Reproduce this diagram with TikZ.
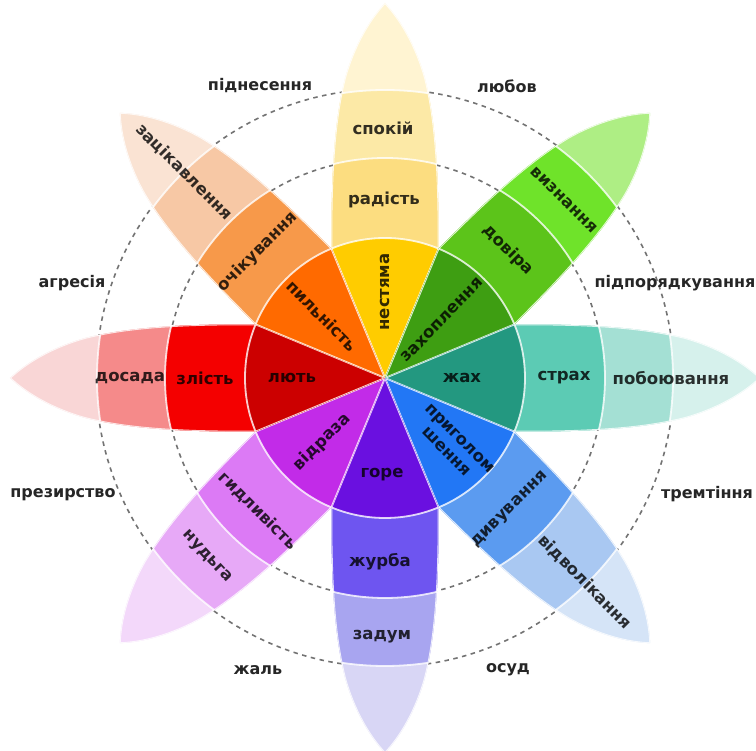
\documentclass[tikz,border=0pt]{standalone}
\usepackage{fontspec}
\setmainfont{DejaVu Sans}
\definecolor{Y1}{HTML}{FFCC00}\definecolor{Y2}{HTML}{FCDD80}\definecolor{Y3}{HTML}{FCE9A6}\definecolor{Y4}{HTML}{FFF4D2}
\definecolor{G1}{HTML}{3E9E12}\definecolor{G2}{HTML}{5CC41A}\definecolor{G3}{HTML}{6FE32A}\definecolor{G4}{HTML}{AEEE84}
\definecolor{T1}{HTML}{239880}\definecolor{T2}{HTML}{5CCBB4}\definecolor{T3}{HTML}{A4E0D4}\definecolor{T4}{HTML}{D6F1EC}
\definecolor{B1}{HTML}{2277F5}\definecolor{B2}{HTML}{5B9BF0}\definecolor{B3}{HTML}{A9C8F2}\definecolor{B4}{HTML}{D5E4F7}
\definecolor{V1}{HTML}{6A10E0}\definecolor{V2}{HTML}{6E55F0}\definecolor{V3}{HTML}{A8A5F0}\definecolor{V4}{HTML}{D8D6F5}
\definecolor{P1}{HTML}{C22BE8}\definecolor{P2}{HTML}{DC7AF5}\definecolor{P3}{HTML}{E7A9F7}\definecolor{P4}{HTML}{F3D8FA}
\definecolor{R1}{HTML}{CC0000}\definecolor{R2}{HTML}{F40000}\definecolor{R3}{HTML}{F58A8A}\definecolor{R4}{HTML}{F9D6D6}
\definecolor{O1}{HTML}{FF6A00}\definecolor{O2}{HTML}{F7994A}\definecolor{O3}{HTML}{F7C8A5}\definecolor{O4}{HTML}{FAE3D3}
\newcommand\drawpetal[5]{%
  \begin{scope}[rotate=#1]
    \clip (0,0) -- (-22.5:140) .. controls (210,-54) and (260,-50) .. (300,-40)
      .. controls (332,-31) and (358,-16) .. (375,0)
      .. controls (358,16) and (332,31) .. (300,40)
      .. controls (260,50) and (210,54) .. (22.5:140) -- cycle;
    \fill[#5] (-10,-80) rectangle (400,80);
    \fill[#4] (0,0) circle (288);
    \fill[#3] (0,0) circle (220);
    \fill[#2] (0,0) circle (140);
    \draw[bord] (0,0) circle (140) (0,0) circle (220) (0,0) circle (288);
    \draw[bord] (0,0) -- (-22.5:140) .. controls (210,-54) and (260,-50) .. (300,-40)
      .. controls (332,-31) and (358,-16) .. (375,0)
      .. controls (358,16) and (332,31) .. (300,40)
      .. controls (260,50) and (210,54) .. (22.5:140) -- cycle;
  \end{scope}}
\begin{document}
\begin{tikzpicture}[x=1pt,y=1pt,
  bord/.style={white, line width=1.8pt, opacity=0.8},
  dashc/.style={black!55, line width=1.6pt, dash pattern=on 4.5pt off 4.5pt},
  plab/.style={font=\bfseries\fontsize{16.5}{19}\selectfont, text=black, text opacity=0.8, inner sep=0pt, align=center},
  dlab/.style={font=\bfseries\fontsize{16}{16}\selectfont, text=black!85, inner sep=0pt}]
\useasboundingbox (-385,-373) rectangle (371,378);
\fill[white] (-385,-373) rectangle (371,378);
\draw[dashc] (0,0) circle (219);
\draw[dashc] (0,0) circle (289);
\drawpetal{90}{Y1}{Y2}{Y3}{Y4}
\drawpetal{45}{G1}{G2}{G3}{G4}
\drawpetal{0}{T1}{T2}{T3}{T4}
\drawpetal{-45}{B1}{B2}{B3}{B4}
\drawpetal{-90}{V1}{V2}{V3}{V4}
\drawpetal{-135}{P1}{P2}{P3}{P4}
\drawpetal{180}{R1}{R2}{R3}{R4}
\drawpetal{135}{O1}{O2}{O3}{O4}
% yellow
\node[plab, rotate=90] (nestyama) at (0,86) {нестяма};
\node[plab] (radist) at (-1,178) {радість};
\node[plab] (spokii) at (-2,250) {спокій};
% green
\node[plab, rotate=46] (zakhoplennia) at (57,58) {захоплення};
\node[plab, rotate=-45] (dovira) at (123,128) {довіра};
\node[plab, rotate=-45] (vyznannia) at (179,178) {визнання};
% teal
\node[plab] (zhakh) at (77,0) {жах};
\node[plab] (strakh) at (179,0) {страх};
\node[plab] (poboiuvannia) at (286,0) {побоювання};
% blue
\node[plab, rotate=-45] (pryholomshennia) at (68,-67) {приголом\\шення};
\node[plab, rotate=45] (dyvuvannia) at (125,-132) {дивування};
\node[plab, rotate=-45] (vidvolikannia) at (200,-204) {відволікання};
% violet
\node[plab] (hore) at (-3,-97) {горе};
\node[plab] (zhurba) at (-5,-184) {журба};
\node[plab] (zadum) at (-3,-259) {задум};
% purple
\node[plab, rotate=45] (vidraza) at (-63,-64) {відраза};
\node[plab, rotate=-45] (hydlyvist) at (-127,-133) {гидливість};
\node[plab, rotate=-47] (nudha) at (-178,-179) {нудьга};
% red
\node[plab] (liut) at (-93,0) {лють};
\node[plab] (zlist) at (-180,0) {злість};
\node[plab] (dosada) at (-255,0) {досада};
% orange
\node[plab, rotate=-45] (pylnist) at (-63,62) {пильність};
\node[plab, rotate=45] (ochikuvannia) at (-127,126) {очікування};
\node[plab, rotate=-45] (zatsikavlennia) at (-201,206) {зацікавлення};
% dyads
\node[dlab] (pidnesennia) at (-125,292) {піднесення};
\node[dlab] (liubov) at (122,292) {любов};
\node[dlab] (pidporiadkuvannia) at (290,95) {підпорядкування};
\node[dlab] (ahresiia) at (-313,95) {агресія};
\node[dlab] (prezyrstvo) at (-322,-117) {презирство};
\node[dlab] (tremtinnia) at (322,-116) {тремтіння};
\node[dlab] (zhal) at (-127,-292) {жаль};
\node[dlab] (osud) at (123,-292) {осуд};
\end{tikzpicture}
\end{document}
